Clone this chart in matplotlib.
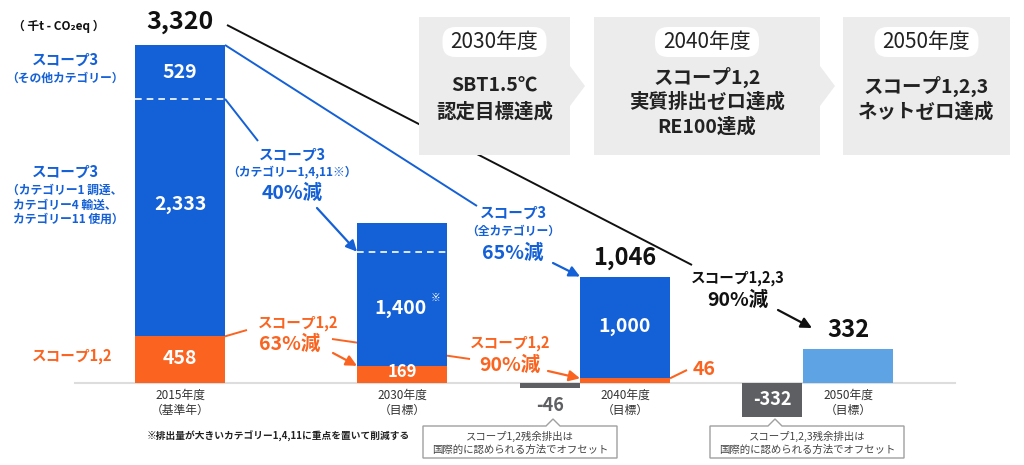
import matplotlib
matplotlib.use("Agg")
import matplotlib.pyplot as plt
from matplotlib.patches import Rectangle, Polygon, FancyBboxPatch

plt.rcParams['font.family'] = ['Noto Sans CJK JP', 'DejaVu Sans']

# data (千t-CO2eq)
years = ['2015年度\n（基準年）', '2030年度\n（目標）', '2040年度\n（目標）', '2050年度\n（目標）']
scope12 = [458, 169, 46, 0]
scope3 = [2862, 1400, 1000, 0]
scope3_split = [2791, 1290, None, None]   # dashed line level
net_zero_bar = [0, 0, 0, 332]
totals = [3320, None, 1046, 332]
offset_vals = [-46, -332]
offset_labels = ['スコープ1,2残余排出は\n国際的に認められる方法でオフセット',
                 'スコープ1,2,3残余排出は\n国際的に認められる方法でオフセット']

BLUE = '#1460d6'
LBLUE = '#5ea3e3'
ORANGE = '#fa6420'
GRAY = '#5e5f62'
BOXGRAY = '#ececec'

fig = plt.figure(figsize=(10.24, 4.65), dpi=100)
ax = fig.add_axes([0, 0, 1, 1])
ax.axis('off')

base_px = 383
k = 3320 / 338.0


def Y(py):
    # pixel row -> data value
    return (base_px - py) * k


def P(v):
    # data value -> pixel row
    return base_px - v / k


ax.set_xlim(0, 1024)
ax.set_ylim(Y(465), Y(0))

xs = [180, 402, 625, 848]
w = 90
off_x = [550, 772]

# bars
ax.bar(xs, scope12, width=w, color=ORANGE, zorder=2)
ax.bar(xs, scope3, width=w, bottom=scope12, color=BLUE, zorder=2)
ax.bar(xs, net_zero_bar, width=w, color=LBLUE, zorder=2)
ax.bar(off_x, offset_vals, width=60, color=GRAY, zorder=2)
ax.plot([75, 955], [0, 0], color='#dddddd', lw=1.5, zorder=1)

for x, s in zip(xs, scope3_split):
    if s is not None:
        ax.plot([x - w / 2, x + w / 2], [s, s], color='white', lw=1.2, ls=(0, (4, 3)), zorder=3)


def txt(x, py, s, size, color='#222222', weight='bold', ha='center', **kw):
    return ax.text(x, Y(py), s, fontsize=size, color=color, fontweight=weight,
                   ha=ha, va='center', zorder=6, **kw)


def line(pts, color, lw=1.5, z=1):
    ax.plot([p[0] for p in pts], [Y(p[1]) for p in pts], color=color, lw=lw, zorder=z,
            solid_capstyle='butt')


def arrow(p1, p2, color, lw=1.6):
    ax.annotate('', xy=p2, xytext=p1,
                arrowprops=dict(arrowstyle='-|>', color=color, lw=lw, mutation_scale=16,
                                shrinkA=0, shrinkB=0), zorder=5)


# value labels
txt(180, 22, f'{totals[0]:,}', 18, '#111111')
txt(180, 72, '529', 14, 'white')
txt(180, 205, '2,333', 14, 'white')
txt(180, 358, f'{scope12[0]:,}', 14, 'white')
txt(400, 308, '1,400', 14, 'white')
txt(436, 298, '※', 7, 'white')
txt(402, 372, f'{scope12[1]}', 12, 'white')
txt(625, 327, f'{scope3[2]:,}', 14, 'white')
ax.annotate(f'{totals[2]:,}', (xs[2], totals[2]), xytext=(0, 13), textcoords='offset points',
            ha='center', va='center', fontsize=17, fontweight='bold', color='#111111', zorder=6)
ax.annotate(f'{totals[3]:,}', (xs[3], totals[3]), xytext=(0, 14), textcoords='offset points',
            ha='center', va='center', fontsize=17, fontweight='bold', color='#111111', zorder=6)
txt(704, 369, f'{scope12[2]}', 14, ORANGE)
line([(670, P(scope12[2])), (687, 370)], ORANGE)
txt(550, 405, f'{offset_vals[0]}', 13, GRAY)
ax.text(off_x[1], offset_vals[1] / 2, f'{offset_vals[1]}', fontsize=13, fontweight='bold',
        color='white', ha='center', va='center', zorder=6)

# left side labels
txt(13, 26, '（ 千t - CO₂eq ）', 8.5, '#111111', ha='left')
txt(65, 60, 'スコープ3', 10.5, BLUE)
txt(65, 78, '（その他カテゴリー）', 8.5, BLUE)
txt(65, 172, 'スコープ3', 10.5, BLUE)
txt(65, 190, '（カテゴリー1 調達、', 8.5, BLUE)
txt(65, 205, 'カテゴリー4 輸送、', 8.5, BLUE)
txt(68, 219, 'カテゴリー11 使用）', 8.5, BLUE)
txt(72, 356, 'スコープ1,2', 10.5, ORANGE)

# year labels
for x, s in zip(xs, years):
    a, b = s.split('\n')
    txt(x, 395, a, 8.5, '#333333', weight='normal')
    txt(x, 410, b, 8.5, '#333333', weight='normal')

txt(147, 436, '※排出量が大きいカテゴリー1,4,11に重点を置いて削減する', 7, '#222222', ha='left')

# black total line
line([(227, 25), (692, 265)], '#111111', lw=1.4, z=1)
txt(738, 278, 'スコープ1,2,3', 10.5, '#111111')
txt(738, 300, '90%減', 14, '#111111')
arrow((778, Y(310)), (812, Y(328)), '#111111')

# scope 3 annotations
line([(225, P(totals[0])), (477, 206)], BLUE, lw=1.4)
txt(513, 213, 'スコープ3', 10.5, BLUE)
txt(513, 231, '（全カテゴリー）', 8.5, BLUE)
txt(513, 253, '65%減', 14, BLUE)
arrow((553, Y(263)), (xs[2] - w / 2, totals[2]), BLUE)

line([(225, P(scope3_split[0])), (258, 141)], BLUE, lw=1.4)
txt(292, 155, 'スコープ3', 10.5, BLUE)
txt(292, 172, '（カテゴリー1,4,11※）', 8.5, BLUE)
txt(292, 193, '40%減', 14, BLUE)
arrow((317, Y(208)), (xs[1] - w / 2, scope3_split[1]), BLUE)

# scope 1,2 annotations
line([(225, P(scope12[0])), (247, 330)], ORANGE, lw=1.4)
txt(298, 323, 'スコープ1,2', 10.5, ORANGE)
txt(290, 344, '63%減', 14, ORANGE)
arrow((333, Y(353)), (xs[1] - w / 2, scope12[1]), ORANGE)
line([(332, 339), (470, 359)], ORANGE, lw=1.4)
txt(510, 343, 'スコープ1,2', 10.5, ORANGE)
txt(510, 365, '90%減', 14, ORANGE)
arrow((548, Y(371)), (xs[2] - w / 2, scope12[2]), ORANGE)

# milestone boxes at top (pixel coords through inches transform)
T = fig.dpi_scale_trans


def pin(x, py):
    return (x / 100.0, (465 - py) / 100.0)


boxes = [(419, 570), (594, 820), (843, 1010)]
for i, (x0, x1) in enumerate(boxes):
    ax.add_patch(Rectangle(pin(x0, 155), (x1 - x0) / 100.0, 1.38, transform=T,
                           fc=BOXGRAY, ec='none', zorder=3))
    if i < 2:
        ax.add_patch(Polygon([pin(x1, 66), pin(x1 + 15, 86), pin(x1, 106)], closed=True,
                             transform=T, fc=BOXGRAY, ec='none', zorder=3))

milestone_years = ['2030年度', '2040年度', '2050年度']
milestone_text = [['SBT1.5℃', '認定目標達成'],
                  ['スコープ1,2', '実質排出ゼロ達成', 'RE100達成'],
                  ['スコープ1,2,3', 'ネットゼロ達成']]
for (x0, x1), yr, lines_ in zip(boxes, milestone_years, milestone_text):
    cx = (x0 + x1) / 2
    pw = 128
    ax.add_patch(FancyBboxPatch(pin(cx - pw / 2 + 14, 57 - 2), (pw - 28) / 100.0, 0.26,
                                boxstyle='round,pad=0.02,rounding_size=0.13', transform=T,
                                fc='white', ec='none', zorder=4))
    txt(cx, 42, yr, 15, '#222222', weight='normal')
    if len(lines_) == 2:
        rows = [86, 112]
    else:
        rows = [77, 102, 127]
    for r, s in zip(rows, lines_):
        txt(cx, r, s, 14, '#222222')

# offset callouts
callouts = [(423, 617, 553), (710, 904, 775)]
for (x0, x1, tip), lab in zip(callouts, offset_labels):
    top, bot = 426, 458
    pts = [pin(x0, top), pin(tip - 7, top), pin(tip, 419), pin(tip + 7, top),
           pin(x1, top), pin(x1, bot), pin(x0, bot)]
    ax.add_patch(Polygon(pts, closed=True, transform=T, fc='white', ec='#a0a0a0',
                         lw=1.0, zorder=4))
    a, b = lab.split('\n')
    txt((x0 + x1) / 2, 436, a, 7.5, '#444444', weight='normal')
    txt((x0 + x1) / 2, 450, b, 7.5, '#444444', weight='normal')

fig.savefig('out.png', dpi=100)
